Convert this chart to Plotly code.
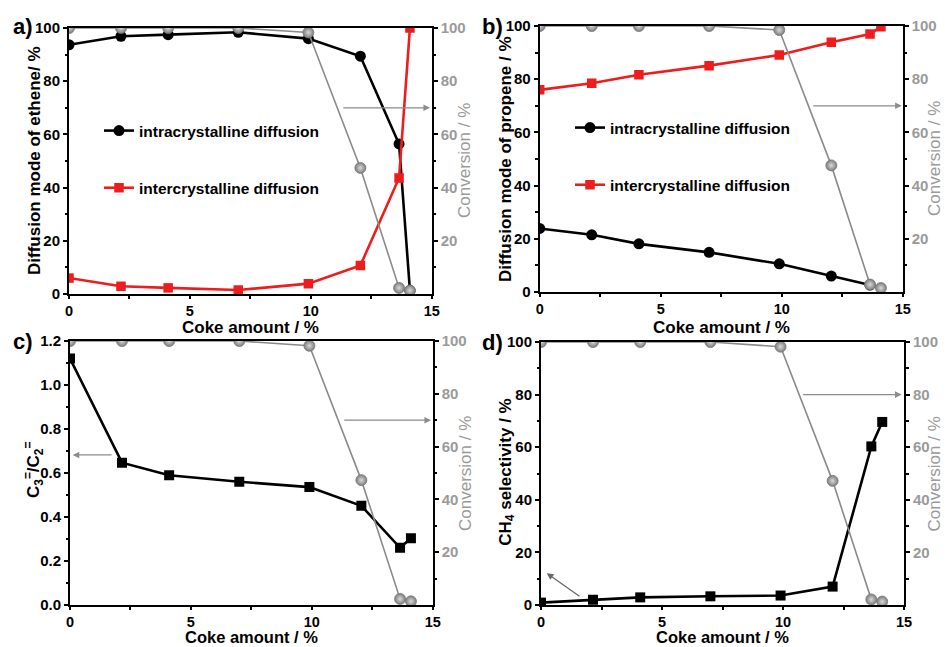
import plotly.graph_objects as go

# ---------------- data ----------------
coke = [0, 2.15, 4.1, 7.0, 9.9, 12.05, 13.65, 14.1]
coke_b_intra = [0, 2.15, 4.1, 7.0, 9.9, 12.05, 13.65]

conv_a = [100, 100, 100, 100, 98.3, 47.4, 2.3, 1.3]
conv_b = [100, 100, 100, 100, 98.5, 47.6, 2.8, 1.5]
conv_c = [100, 100, 100, 100, 98.2, 47.3, 2.3, 1.4]
conv_d = [100, 100, 100, 100, 98.2, 47.2, 2.1, 1.3]

intra_ethene = [93.7, 96.9, 97.5, 98.4, 96.0, 89.4, 56.4, 1.3]
inter_ethene = [6.0, 2.9, 2.3, 1.5, 3.9, 10.7, 43.6, 100]
intra_propene = [23.9, 21.5, 18.1, 14.9, 10.6, 6.0, 2.6]
inter_propene = [76.0, 78.5, 81.7, 85.1, 89.1, 93.9, 97.0, 99.7]
ratio_c3_c2 = [1.12, 0.647, 0.59, 0.56, 0.536, 0.451, 0.26, 0.303]
ch4_sel = [0.9, 2.0, 2.9, 3.3, 3.6, 7.0, 60.3, 69.6]

x_ticks = [0, 5, 10, 15]
conv_ticks = [20, 40, 60, 80, 100]

# ---------------- style ----------------
FONT = "Liberation Sans, Arial, sans-serif"
BLACK = "#000000"
RED = "#ee1c1c"
GRAYLINE = "#8a8a8a"
GRAYTXT = "#9a9a9a"
W, H = 945, 647

def px_x(p):
    return p / W

def px_y(p):
    return 1 - p / H

fig = go.Figure()

def conv_trace(y, xa, ya):
    return go.Scatter(
        x=coke, y=y, xaxis=xa, yaxis=ya, mode="lines+markers",
        line=dict(color=GRAYLINE, width=1.6),
        marker=dict(symbol="circle", size=11, color="#7d7d7d",
                    gradient=dict(type="radial", color="#d8d8d8"),
                    line=dict(color="#777777", width=0.8)),
        showlegend=False, hoverinfo="x+y", cliponaxis=True)

def black_circle():
    return dict(symbol="circle", size=11, color=BLACK)

# Panel a
fig.add_trace(go.Scatter(x=coke, y=intra_ethene, xaxis="x", yaxis="y",
                         mode="lines+markers", name="intracrystalline diffusion",
                         line=dict(color=BLACK, width=2.6), marker=black_circle(),
                         legend="legend", legendgroup="a1"))
fig.add_trace(go.Scatter(x=coke, y=inter_ethene, xaxis="x", yaxis="y",
                         mode="lines+markers", name="intercrystalline diffusion",
                         line=dict(color=RED, width=2.6),
                         marker=dict(symbol="square", size=9.5, color=RED),
                         legend="legend", legendgroup="a2"))
fig.add_trace(conv_trace(conv_a, "x", "y2"))

# Panel b
fig.add_trace(go.Scatter(x=coke_b_intra, y=intra_propene, xaxis="x2", yaxis="y3",
                         mode="lines+markers", name="intracrystalline diffusion",
                         line=dict(color=BLACK, width=2.6), marker=black_circle(),
                         legend="legend2", legendgroup="b1"))
fig.add_trace(go.Scatter(x=coke, y=inter_propene, xaxis="x2", yaxis="y3",
                         mode="lines+markers", name="intercrystalline diffusion",
                         line=dict(color=RED, width=2.6),
                         marker=dict(symbol="square", size=9.5, color=RED),
                         legend="legend2", legendgroup="b2"))
fig.add_trace(conv_trace(conv_b, "x2", "y4"))

# Panel c
fig.add_trace(go.Scatter(x=coke, y=ratio_c3_c2, xaxis="x3", yaxis="y5",
                         mode="lines+markers", line=dict(color=BLACK, width=2.6),
                         marker=dict(symbol="square", size=10, color=BLACK),
                         showlegend=False))
fig.add_trace(conv_trace(conv_c, "x3", "y6"))

# Panel d
fig.add_trace(go.Scatter(x=coke, y=ch4_sel, xaxis="x4", yaxis="y7",
                         mode="lines+markers", line=dict(color=BLACK, width=2.6),
                         marker=dict(symbol="square", size=10, color=BLACK),
                         showlegend=False))
fig.add_trace(conv_trace(conv_d, "x4", "y8"))

# ---------------- axes ----------------
tickfont_k = dict(family=FONT, size=15, color=BLACK, weight="bold")
tickfont_x = dict(family=FONT, size=14.5, color=BLACK, weight="bold")
tickfont_g = dict(family=FONT, size=15, color=GRAYTXT, weight="bold")

domains = {
    1: ([px_x(69), px_x(431.7)], [px_y(294), px_y(28)]),
    2: ([px_x(539.7), px_x(902.7)], [px_y(292), px_y(26)]),
    3: ([px_x(70), px_x(432.7)], [px_y(605), px_y(341)]),
    4: ([px_x(541), px_x(904)], [px_y(605), px_y(342)]),
}

layout_axes = {}
for i in range(1, 5):
    xd, yd = domains[i]
    xname = "xaxis" if i == 1 else f"xaxis{i}"
    left = 2 * i - 1
    right = 2 * i
    lname = "yaxis" if left == 1 else f"yaxis{left}"
    rname = f"yaxis{right}"
    xid = "x" if i == 1 else f"x{i}"
    lid = "y" if left == 1 else f"y{left}"
    layout_axes[xname] = dict(
        domain=xd, anchor=lid, range=[0, 15], tickmode="array", tickvals=x_ticks,
        showline=True, linecolor=BLACK, linewidth=2, mirror=True,
        ticks="outside", ticklen=2.5, tickwidth=1.5, tickcolor=BLACK,
        minor=dict(tickmode="array", tickvals=[2.5, 7.5, 12.5], ticks="outside",
                   ticklen=2.5, tickwidth=1.5, tickcolor=BLACK),
        showgrid=False, zeroline=False, tickfont=tickfont_x, automargin=False)
    if i == 3:
        lax = dict(range=[0, 1.2], dtick=0.2, tick0=0, tickformat=".1f",
                   minor=dict(dtick=0.1, tick0=0, ticks="outside", ticklen=2.5,
                              tickwidth=1.5, tickcolor=BLACK))
    else:
        lax = dict(range=[0, 100], dtick=20, tick0=0,
                   minor=dict(dtick=10, tick0=0, ticks="outside", ticklen=2.5,
                              tickwidth=1.5, tickcolor=BLACK))
    lax.update(domain=yd, anchor=xid, showline=True, linecolor=BLACK, linewidth=2,
               ticks="outside", ticklen=4, tickwidth=1.5, tickcolor=BLACK,
               showgrid=False, zeroline=False, tickfont=tickfont_k, automargin=False)
    layout_axes[lname] = lax
    layout_axes[rname] = dict(
        overlaying=lid, side="right", anchor=xid, range=[0, 100],
        tickmode="array", tickvals=conv_ticks,
        minor=dict(tickmode="array", tickvals=[10, 30, 50, 70, 90], ticks="outside",
                   ticklen=2.5, tickwidth=1.5, tickcolor=BLACK),
        showline=True, linecolor=BLACK, linewidth=2,
        ticks="outside", ticklen=4, tickwidth=1.5, tickcolor=BLACK,
        showgrid=False, zeroline=False, tickfont=tickfont_g, automargin=False)

# ---------------- annotations (titles, labels, arrows) ----------------
ann = []

def text(t, xp, yp, size=17, color=BLACK, bold=True, angle=0, xanchor="center"):
    ann.append(dict(text=t, x=px_x(xp), y=px_y(yp), xref="paper", yref="paper",
                    showarrow=False, textangle=angle, xanchor=xanchor, yanchor="middle",
                    font=dict(family=FONT, size=size, color=color,
                              weight="bold" if bold else "normal")))

# panel labels
text("a)", 23, 26, size=22)
text("b)", 492.5, 26, size=22)
text("c)", 22.5, 341, size=22)
text("d)", 492, 342, size=22)

# x titles
text("Coke amount / %", 250, 327)
text("Coke amount / %", 721, 327)
text("Coke amount / %", 251, 636.5, size=16.5)
text("Coke amount / %", 722.5, 636.5, size=16.5)

# left y titles
text("Diffusion mode of ethene/ %", 35, 161, angle=-90)
text("Diffusion mode of propene / %", 505, 159, angle=-90)
text("C<sub>3</sub><sup>=</sup>/C<sub>2</sub><sup>=</sup>", 33, 470, angle=-90)
text("CH<sub>4</sub> selectivity / %", 506.7, 472, angle=-90)

# right y titles
for xp, yp in [(465, 161), (934, 159), (465, 474), (934, 474.5)]:
    text("Conversion / %", xp, yp, color=GRAYTXT, bold=False, angle=-90)

def arrow(xa, ya, x0, y0, x1, y1, color="#8c8c8c"):
    ann.append(dict(x=x1, y=y1, ax=x0, ay=y0, xref=xa, yref=ya, axref=xa, ayref=ya,
                    text="", showarrow=True, arrowhead=2, arrowsize=1.1,
                    arrowwidth=1.2, arrowcolor=color, standoff=0, startstandoff=0))

arrow("x", "y2", 11.28, 70, 14.93, 70)
arrow("x2", "y4", 11.24, 70, 14.96, 70)
arrow("x3", "y6", 11.28, 70, 14.93, 70)
arrow("x3", "y5", 1.78, 0.682, 0.11, 0.682)
arrow("x4", "y8", 10.77, 80, 14.9, 80)
arrow("x4", "y7", 1.65, 2.9, 0.24, 12.1, color="#666666")

legend_font = dict(family=FONT, size=15.5, color=BLACK, weight="bold")

fig.update_layout(
    width=W, height=H, margin=dict(l=0, r=0, t=0, b=0),
    paper_bgcolor="white", plot_bgcolor="white",
    font=dict(family=FONT, color=BLACK),
    annotations=ann,
    legend=dict(x=px_x(99), y=px_y(114), xanchor="left", yanchor="top",
                bgcolor="rgba(0,0,0,0)", font=legend_font, tracegroupgap=34,
                traceorder="grouped", itemsizing="trace"),
    legend2=dict(x=px_x(570), y=px_y(111), xanchor="left", yanchor="top",
                 bgcolor="rgba(0,0,0,0)", font=legend_font, tracegroupgap=34,
                 traceorder="grouped", itemsizing="trace"),
    **layout_axes,
)

fig.write_html("out.html")
